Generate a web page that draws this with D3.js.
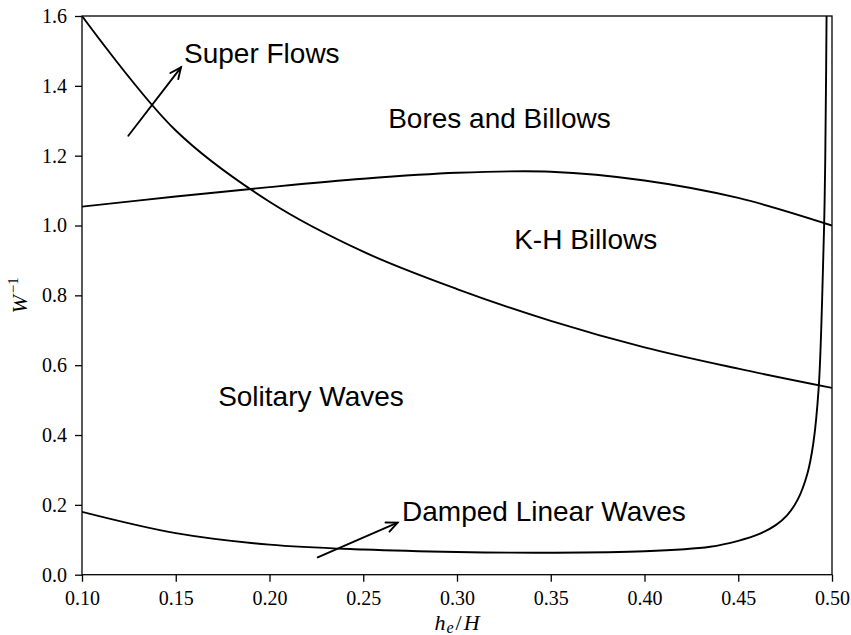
<!DOCTYPE html>
<html>
<head>
<meta charset="utf-8">
<script src="https://cdn.jsdelivr.net/npm/d3@7/dist/d3.min.js"></script>
<style>
  html, body { margin: 0; padding: 0; background: #fff; }
  svg { display: block; }
</style>
</head>
<body>
<svg id="chart" width="851" height="635"></svg>
<script>
// Regime boundaries in the (h_e/H, W^-1) plane
const criticalH = [0.10, 0.15, 0.20, 0.25, 0.30, 0.35, 0.40, 0.45, 0.50];
const criticalW = [1.600, 1.272, 1.068, 0.925, 0.818, 0.727, 0.651, 0.590, 0.535];

const billowH = [0.10, 0.15, 0.20, 0.25, 0.30, 0.35, 0.40, 0.45, 0.50];
const billowW = [1.054, 1.083, 1.110, 1.134, 1.151, 1.154, 1.129, 1.079, 1.000];

const dampingH = [0.100, 0.150, 0.200, 0.250, 0.300, 0.350, 0.400, 0.435, 0.450, 0.461, 0.470,
                  0.476, 0.4817, 0.4869, 0.4900, 0.4929, 0.4947, 0.4958, 0.4964, 0.4971, 0.4975];
const dampingW = [0.180, 0.119, 0.086, 0.072, 0.065, 0.063, 0.067, 0.080, 0.097, 0.116, 0.142,
                  0.170, 0.215, 0.290, 0.375, 0.535, 0.780, 1.000, 1.190, 1.600, 2.000];

// Region labels (left edge, baseline) in data units
const regionNames = ["Super Flows", "Bores and Billows", "K-H Billows", "Solitary Waves", "Damped Linear Waves"];
const regionH = [0.1544, 0.2633, 0.3305, 0.1726, 0.2707];
const regionW = [1.466, 1.279, 0.933, 0.483, 0.154];

// Pointer arrows: tail -> head, in data units
const arrowFromH = [0.1247, 0.2257];
const arrowFromW = [1.257, 0.0498];
const arrowToH = [0.1528, 0.2683];
const arrowToW = [1.453, 0.149];

const xTicks = [0.10, 0.15, 0.20, 0.25, 0.30, 0.35, 0.40, 0.45, 0.50];
const yTicks = [0.0, 0.2, 0.4, 0.6, 0.8, 1.0, 1.2, 1.4, 1.6];

const margin = { left: 82, top: 16, right: 19, bottom: 60.3 };
const width = 851, height = 635;
const svg = d3.select("#chart");

const x = d3.scaleLinear().domain([0.10, 0.50]).range([margin.left, width - margin.right]);
const y = d3.scaleLinear().domain([0, 1.6]).range([height - margin.bottom, margin.top]);

svg.append("defs").append("clipPath").attr("id", "plot-clip")
  .append("rect")
  .attr("x", x(0.10)).attr("y", y(1.6))
  .attr("width", x(0.50) - x(0.10)).attr("height", y(0) - y(1.6));

// Boundary curves
const line = d3.line().x(d => x(d[0])).y(d => y(d[1])).curve(d3.curveCatmullRom.alpha(0.5));
const curves = [
  d3.zip(criticalH, criticalW),
  d3.zip(billowH, billowW),
  d3.zip(dampingH, dampingW)
];
svg.append("g").attr("clip-path", "url(#plot-clip)")
  .selectAll("path").data(curves).join("path")
  .attr("d", line)
  .attr("fill", "none")
  .attr("stroke", "#000")
  .attr("stroke-width", 1.9);

// Axes
const xAxis = d3.axisBottom(x).tickValues(xTicks).tickFormat(d3.format(".2f"))
  .tickSize(7).tickSizeOuter(0).tickPadding(9);
const yAxis = d3.axisLeft(y).tickValues(yTicks).tickFormat(d3.format(".1f"))
  .tickSize(7).tickSizeOuter(0).tickPadding(8);

const gx = svg.append("g").attr("transform", `translate(0,${y(0)})`).call(xAxis);
const gy = svg.append("g").attr("transform", `translate(${x(0.10)},0)`).call(yAxis);
[gx, gy].forEach(g => {
  g.select(".domain").remove();
  g.selectAll(".tick line").attr("stroke", "#000").attr("stroke-width", 1.3);
  g.selectAll(".tick text")
    .attr("fill", "#000")
    .style("font-family", "'Liberation Serif', 'DejaVu Serif', serif")
    .style("font-size", "20px");
});

// Frame
svg.append("rect")
  .attr("x", x(0.10)).attr("y", y(1.6))
  .attr("width", x(0.50) - x(0.10)).attr("height", y(0) - y(1.6))
  .attr("fill", "none").attr("stroke", "#000").attr("stroke-width", 1.3);

// Axis titles
const serif = "'Liberation Serif', 'DejaVu Serif', serif";
const xt = svg.append("text")
  .attr("x", (x(0.10) + x(0.50)) / 2).attr("y", 630)
  .attr("text-anchor", "middle")
  .style("font-family", serif).style("font-size", "22px");
xt.append("tspan").style("font-style", "italic").text("h");
xt.append("tspan").style("font-style", "italic").style("font-size", "16px").attr("dy", 3).attr("dx", 1).text("e");
xt.append("tspan").attr("dy", -3).attr("dx", 2).text("/");
xt.append("tspan").style("font-style", "italic").attr("dx", 2).text("H");

const yt = svg.append("text")
  .attr("transform", `translate(27,${(y(0) + y(1.6)) / 2}) rotate(-90)`)
  .attr("text-anchor", "middle")
  .style("font-family", serif).style("font-size", "22px");
yt.append("tspan").style("font-style", "italic").text("W");
yt.append("tspan").style("font-size", "15px").attr("dy", -9).attr("dx", 2).text("\u22121");

// Region labels
svg.append("g").selectAll("text").data(regionNames).join("text")
  .attr("x", (d, i) => x(regionH[i]))
  .attr("y", (d, i) => y(regionW[i]))
  .style("font-family", "'Liberation Sans', Arial, sans-serif")
  .style("font-size", "28px")
  .attr("fill", "#000")
  .text(d => d);

// Arrows with open heads
const arrows = svg.append("g").attr("fill", "none").attr("stroke", "#000")
  .attr("stroke-width", 1.9).attr("stroke-linecap", "round").attr("stroke-linejoin", "miter");
arrowFromH.forEach((h0, i) => {
  const x0 = x(h0), y0 = y(arrowFromW[i]);
  const x1 = x(arrowToH[i]), y1 = y(arrowToW[i]);
  const ang = Math.atan2(y1 - y0, x1 - x0);
  const L = 11, Wd = 5;
  const bx = x1 - L * Math.cos(ang), by = y1 - L * Math.sin(ang);
  const px = -Math.sin(ang) * Wd, py = Math.cos(ang) * Wd;
  arrows.append("path").attr("d", `M${x0},${y0}L${x1},${y1}`);
  arrows.append("path").attr("d", `M${bx + px},${by + py}L${x1},${y1}L${bx - px},${by - py}`);
});
</script>
</body>
</html>
